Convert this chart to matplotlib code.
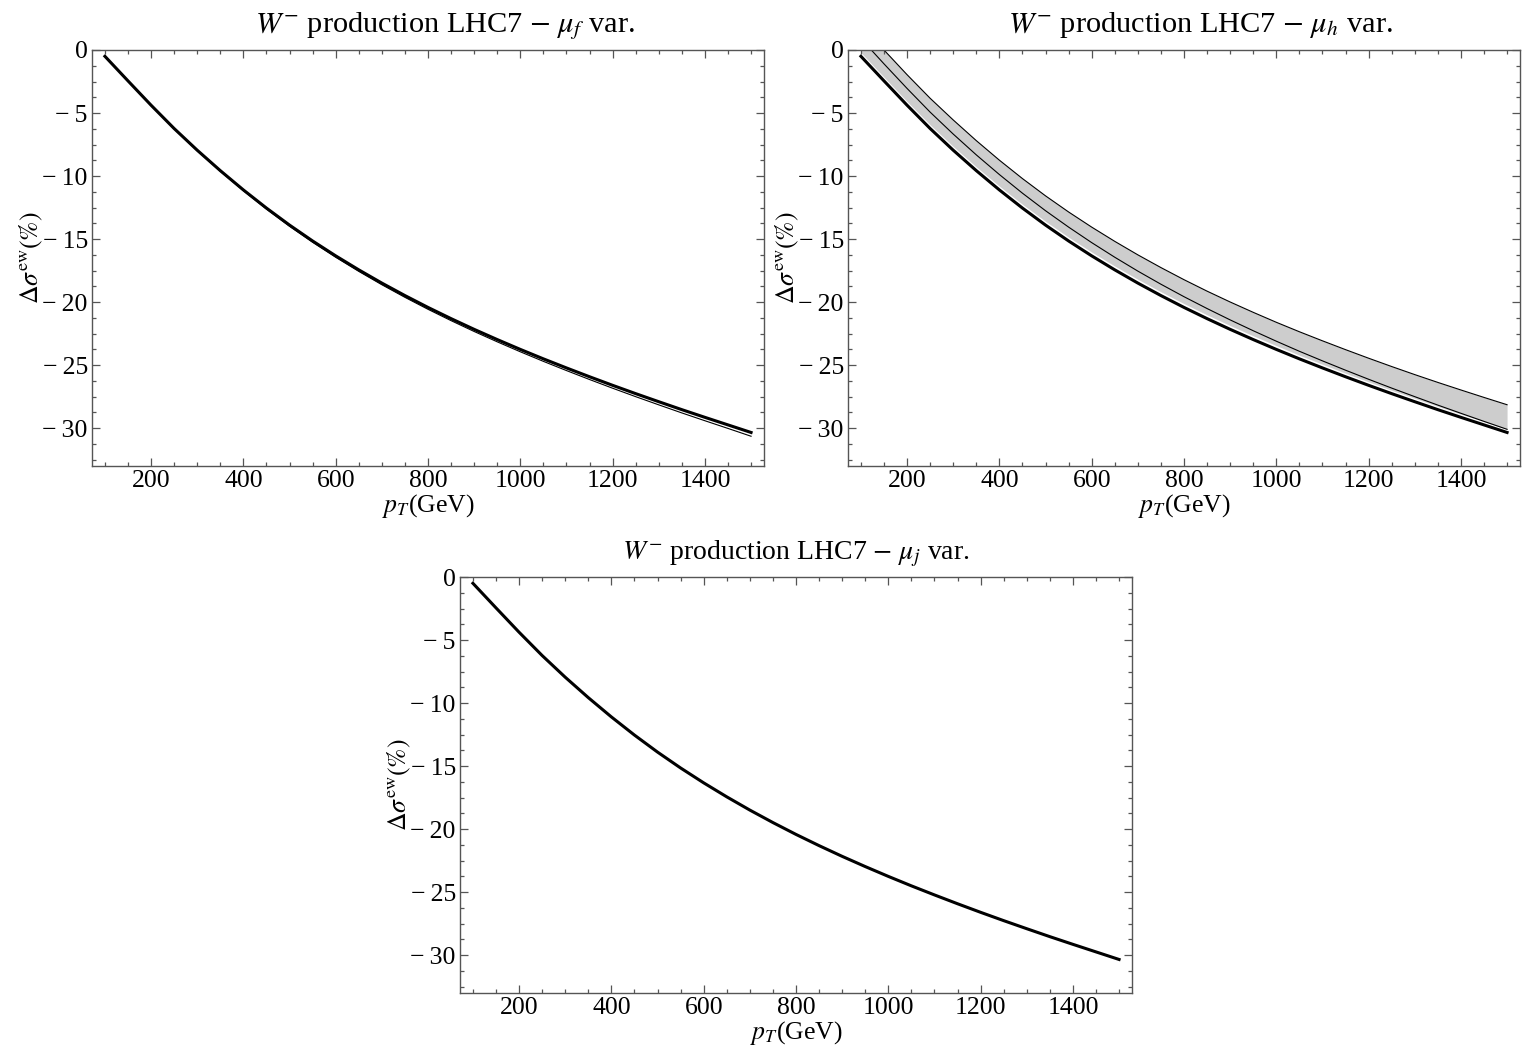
import numpy as np
import matplotlib
matplotlib.use("Agg")
import matplotlib.pyplot as plt
from matplotlib.ticker import MultipleLocator, FuncFormatter

plt.rcParams['font.family'] = ['Liberation Serif', 'DejaVu Serif']
plt.rcParams['mathtext.fontset'] = 'stix'
plt.rcParams['font.size'] = 18.5

# transverse momentum grid (GeV)
pt = [100, 150, 200, 250, 300, 350, 400, 450, 500, 550, 600, 650, 700, 750, 800,
      850, 900, 950, 1000, 1050, 1100, 1150, 1200, 1250, 1300, 1350, 1400, 1450, 1500]

# central EW correction (%)
central = [-0.50, -2.45, -4.38, -6.23, -7.95, -9.57, -11.10, -12.54, -13.89, -15.15,
           -16.33, -17.44, -18.49, -19.48, -20.42, -21.31, -22.16, -22.97, -23.75, -24.50,
           -25.22, -25.92, -26.60, -27.26, -27.90, -28.53, -29.14, -29.74, -30.34]

# mu_f variation (lower curve)
muf_low = [-0.50, -2.46, -4.40, -6.26, -7.99, -9.62, -11.16, -12.62, -13.98, -15.25,
           -16.44, -17.56, -18.62, -19.62, -20.57, -21.47, -22.33, -23.15, -23.94, -24.70,
           -25.43, -26.14, -26.83, -27.50, -28.15, -28.79, -29.41, -30.02, -30.64]

# mu_h variation: band edges and middle curve
muh_up = [2.00, 0.00, -1.96, -3.83, -5.55, -7.19, -8.74, -10.20, -11.57, -12.85,
          -14.05, -15.18, -16.25, -17.26, -18.22, -19.13, -19.99, -20.81, -21.60, -22.35,
          -23.07, -23.77, -24.45, -25.11, -25.75, -26.37, -26.97, -27.56, -28.14]
muh_mid = [0.90, -1.10, -3.05, -4.93, -6.67, -8.32, -9.88, -11.36, -12.75, -14.05,
           -15.28, -16.44, -17.54, -18.58, -19.57, -20.51, -21.41, -22.27, -23.10, -23.90,
           -24.66, -25.40, -26.12, -26.82, -27.50, -28.17, -28.82, -29.46, -30.09]
muh_low = [-0.20, -2.15, -4.08, -5.93, -7.65, -9.27, -10.80, -12.24, -13.59, -14.85,
           -16.03, -17.14, -18.19, -19.18, -20.12, -21.01, -21.86, -22.67, -23.45, -24.21,
           -24.93, -25.64, -26.32, -26.99, -27.63, -28.27, -28.88, -29.48, -30.09]

titles = [r"$W^{-}$ production LHC7 $-$ $\mu_f$ var.",
          r"$W^{-}$ production LHC7 $-$ $\mu_h$ var.",
          r"$W^{-}$ production LHC7 $-$ $\mu_j$ var."]


def ylab(v, pos):
    # Mathematica-style minus sign with a small gap
    if v < 0:
        return "\u2212\u2009%d" % abs(v)
    return "%d" % v


fig = plt.figure(figsize=(15.27, 10.56), dpi=100)
W, H = 1527, 1056
rects = [(92, 50, 672, 416), (848, 50, 672, 416), (460, 577, 672, 416)]
axes = [fig.add_axes([x / W, 1 - (y + h) / H, w / W, h / H]) for x, y, w, h in rects]
title_x = [0.525, 0.525, 0.5]
title_size = [21.9, 21.9, 20]

frame = '#555555'
for ax, t, tx, ts in zip(axes, titles, title_x, title_size):
    ax.set_xlim(72, 1528)
    ax.set_ylim(-33, 0)
    ax.xaxis.set_major_locator(MultipleLocator(200))
    ax.xaxis.set_minor_locator(MultipleLocator(50))
    ax.yaxis.set_major_locator(MultipleLocator(5))
    ax.yaxis.set_minor_locator(MultipleLocator(1.25))
    ax.yaxis.set_major_formatter(FuncFormatter(ylab))
    ax.tick_params(which='both', direction='in', top=True, right=True,
                   color=frame, width=0.9, pad=3)
    ax.tick_params(which='major', length=6)
    ax.tick_params(which='minor', length=3)
    for s in ax.spines.values():
        s.set_color(frame)
        s.set_linewidth(1.0)
    ax.set_title(t, pad=13, x=tx, fontsize=ts)
    ax.set_xlabel(r"$p_T$(GeV)", labelpad=0)
    ax.set_ylabel(r"$\Delta\sigma^{\rm ew}(\%)$", labelpad=-2)

# mu_f panel
ax = axes[0]
ax.plot(pt, muf_low, color='black', lw=0.8)
ax.plot(pt, central, color='black', lw=2.2)

# mu_h panel
ax = axes[1]
ax.fill_between(pt, muh_low, muh_up, color='#cdcdcd', lw=0)
ax.plot(pt, muh_up, color='black', lw=0.8)
ax.plot(pt, muh_mid, color='black', lw=0.8)
ax.plot(pt, central, color='black', lw=2.2)

# mu_j panel
ax = axes[2]
ax.plot(pt, central, color='black', lw=2.2)

fig.savefig('out.png', dpi=100)
